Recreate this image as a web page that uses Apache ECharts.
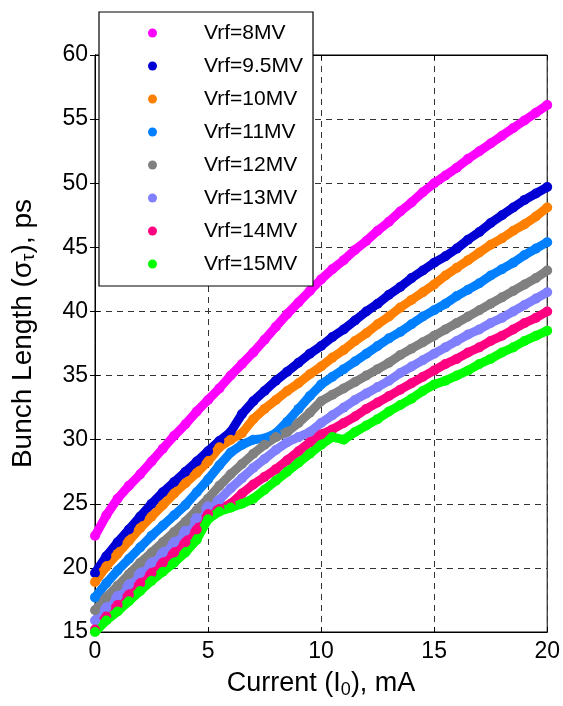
<!DOCTYPE html>
<html>
<head>
<meta charset="utf-8">
<script src="https://cdn.jsdelivr.net/npm/echarts@6/dist/echarts.min.js"></script>
<style>
  html, body { margin: 0; padding: 0; background: #fff; }
  #chart { width: 563px; height: 706px; }
</style>
</head>
<body>
<div id="chart"></div>
<script>
// current, mA
var current = [0, 0.5, 1, 1.5, 2, 2.5, 3, 3.5, 4, 4.5, 5, 5.5, 6, 6.5, 7, 7.5, 8, 8.5, 9, 9.5, 10,
  10.5, 11, 11.5, 12, 12.5, 13, 13.5, 14, 14.5, 15, 15.5, 16, 16.5, 17, 17.5, 18, 18.5, 19, 19.5, 20];

// bunch length, ps
var vrf8 = [22.5, 24.1, 25.4, 26.4, 27.3, 28.3, 29.3, 30.3, 31.2, 32.2, 33.1,
  34.0, 35.0, 35.9, 36.8, 37.8, 38.8, 39.8, 40.7, 41.6, 42.5,
  43.3, 44.0, 44.8, 45.5, 46.3, 47.0, 47.8, 48.5, 49.3, 50.0,
  50.6, 51.2, 51.9, 52.5, 53.1, 53.7, 54.3, 54.9, 55.5, 56.1];
var vrf95 = [19.6, 20.9, 22.0, 23.0, 24.0, 25.0, 25.9, 26.7, 27.5, 28.3, 29.1,
  29.9, 30.6, 32.0, 33.0, 33.8, 34.6, 35.3, 36.0, 36.7, 37.3,
  38.0, 38.6, 39.3, 40.0, 40.6, 41.3, 41.9, 42.6, 43.2, 43.8,
  44.3, 44.9, 45.6, 46.2, 46.9, 47.5, 48.1, 48.7, 49.2, 49.7];
var vrf10 = [18.9, 20.1, 21.1, 22.1, 23.1, 24.0, 24.9, 25.8, 26.6, 27.4, 28.3,
  29.4, 30.0, 30.5, 31.6, 32.4, 33.1, 33.8, 34.4, 35.1, 35.7,
  36.4, 37.0, 37.7, 38.3, 39.0, 39.6, 40.3, 40.9, 41.5, 42.1,
  42.8, 43.4, 44.0, 44.6, 45.2, 45.7, 46.3, 46.8, 47.4, 48.1];
var vrf11 = [17.7, 18.8, 19.8, 20.7, 21.6, 22.5, 23.3, 24.1, 24.9, 25.9, 26.9,
  28.0, 29.0, 29.6, 30.0, 30.1, 30.5, 31.4, 32.4, 33.4, 34.3,
  34.9, 35.5, 36.1, 36.7, 37.3, 37.9, 38.4, 39.0, 39.6, 40.1,
  40.6, 41.2, 41.7, 42.2, 42.8, 43.3, 43.8, 44.4, 44.9, 45.4];
var vrf12 = [16.7, 17.7, 18.6, 19.5, 20.4, 21.2, 22.0, 22.8, 23.6, 24.5, 25.4,
  26.4, 27.3, 28.1, 28.9, 29.6, 30.2, 30.6, 31.3, 32.1, 33.0,
  33.5, 34.0, 34.5, 35.0, 35.5, 36.0, 36.6, 37.1, 37.6, 38.1,
  38.6, 39.1, 39.6, 40.1, 40.6, 41.1, 41.6, 42.1, 42.6, 43.2];
var vrf13 = [15.9, 16.9, 17.8, 18.7, 19.6, 20.4, 21.2, 22.0, 22.9, 23.9, 24.8,
  25.3, 26.2, 27.0, 27.8, 28.5, 29.2, 29.8, 30.2, 30.6, 31.3,
  31.9, 32.5, 33.1, 33.6, 34.1, 34.6, 35.2, 35.7, 36.2, 36.7,
  37.2, 37.7, 38.2, 38.6, 39.1, 39.5, 40.0, 40.5, 41.0, 41.5];
var vrf14 = [15.2, 16.2, 17.1, 17.9, 18.8, 19.6, 20.4, 21.2, 22.0, 23.0, 24.2,
  24.6, 25.0, 25.8, 26.5, 27.1, 27.7, 28.4, 29.1, 29.8, 30.4,
  30.8, 31.3, 31.8, 32.4, 32.9, 33.4, 33.9, 34.4, 34.9, 35.4,
  35.9, 36.3, 36.8, 37.2, 37.7, 38.1, 38.6, 39.1, 39.5, 40.0];
var vrf15 = [15.0, 15.9, 16.6, 17.4, 18.2, 19.0, 19.7, 20.4, 21.2, 22.2, 23.8,
  24.4, 24.7, 25.0, 25.4, 26.1, 26.8, 27.5, 28.2, 28.9, 29.6,
  30.2, 30.0, 30.6, 31.1, 31.6, 32.2, 32.7, 33.2, 33.8, 34.3,
  34.6, 35.0, 35.4, 35.9, 36.3, 36.8, 37.2, 37.7, 38.1, 38.5];

var names = ['Vrf=8MV', 'Vrf=9.5MV', 'Vrf=10MV', 'Vrf=11MV', 'Vrf=12MV', 'Vrf=13MV', 'Vrf=14MV', 'Vrf=15MV'];
var values = [vrf8, vrf95, vrf10, vrf11, vrf12, vrf13, vrf14, vrf15];
var colors = ['#ff00ff', '#0000d4', '#ff8000', '#0080ff', '#808080', '#8080ff', '#ff0080', '#00ff00'];

var font = 'Liberation Sans, Arial, sans-serif';
var chart = echarts.init(document.getElementById('chart'), null, { renderer: 'canvas' });

var series = names.map(function (n, i) {
  return {
    name: n,
    type: 'line',
    data: current.map(function (x, j) { return [x, values[i][j]]; }),
    symbol: 'circle',
    symbolSize: 10,
    showSymbol: true,
    showAllSymbol: true,
    clip: false,
    itemStyle: { color: colors[i] },
    lineStyle: { color: colors[i], width: 9 },
    emphasis: { disabled: true }
  };
});

var tickStyle = { show: true, inside: true, length: 5, lineStyle: { color: '#000' } };
var gridLine = { show: true, lineStyle: { color: '#333', type: [6, 5], width: 1 } };

var option = {
  animation: false,
  color: colors,
  grid: { left: 92, right: 14, top: 55, bottom: 74, show: true, borderColor: '#000', borderWidth: 1 },
  legend: {
    orient: 'vertical',
    left: 99,
    top: 12,
    data: names,
    icon: 'circle',
    itemWidth: 9,
    itemHeight: 9,
    itemGap: 9,
    padding: [9, 10, 10, 49],
    backgroundColor: '#fff',
    borderColor: '#000',
    borderWidth: 1.2,
    textStyle: { fontFamily: font, fontSize: 21, lineHeight: 24, color: '#000', padding: [0, 0, 0, 42] }
  },
  xAxis: [{
    type: 'value', min: 0, max: 20, interval: 5,
    name: 'Current (I{s|0}), mA',
    nameLocation: 'middle',
    nameGap: 37,
    nameTextStyle: {
      fontFamily: font, fontSize: 27, color: '#000', lineHeight: 30,
      rich: { s: { fontFamily: font, fontSize: 18, lineHeight: 14, verticalAlign: 'bottom', color: '#000' } }
    },
    axisLine: { show: true, lineStyle: { color: '#000' } },
    axisTick: tickStyle,
    axisLabel: { fontFamily: font, fontSize: 23, color: '#000', margin: 8 },
    splitLine: gridLine
  }, {
    type: 'value', min: 0, max: 20, interval: 5, position: 'top',
    axisLine: { show: true, lineStyle: { color: '#000' } },
    axisTick: tickStyle, axisLabel: { show: false }, splitLine: { show: false }
  }],
  yAxis: [{
    type: 'value', min: 15, max: 60, interval: 5,
    name: 'Bunch Length (\u03c3{s|\u03c4}), ps',
    nameLocation: 'middle',
    nameGap: 57,
    nameTextStyle: {
      fontFamily: font, fontSize: 28, color: '#000', lineHeight: 30, padding: [0, 0, 0, 20],
      rich: { s: { fontFamily: font, fontSize: 19, lineHeight: 14, verticalAlign: 'bottom', color: '#000' } }
    },
    axisLine: { show: true, lineStyle: { color: '#000' } },
    axisTick: tickStyle,
    axisLabel: { fontFamily: font, fontSize: 23, color: '#000', margin: 7 },
    splitLine: gridLine
  }, {
    type: 'value', min: 15, max: 60, interval: 5, position: 'right',
    axisLine: { show: true, lineStyle: { color: '#000' } },
    axisTick: tickStyle, axisLabel: { show: false }, splitLine: { show: false }
  }],
  series: series
};
chart.setOption(option);
</script>
</body>
</html>
